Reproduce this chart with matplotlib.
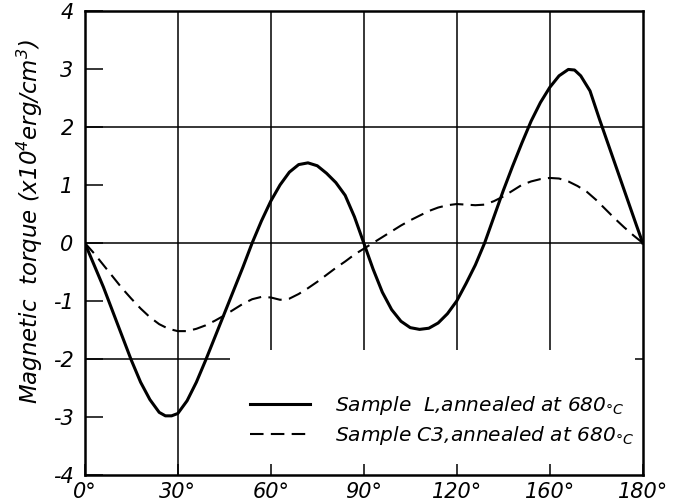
import numpy as np
import matplotlib
matplotlib.use("Agg")
import matplotlib.pyplot as plt

plt.rcParams["font.family"] = ["DejaVu Sans"]
plt.rcParams["font.style"] = "italic"
plt.rcParams["mathtext.fontset"] = "dejavusans"
plt.rcParams["mathtext.default"] = "it"

# --- data ----------------------------------------------------------------------

angle_L = [0, 3, 6, 9, 12, 15, 18, 21, 24, 26, 28, 30, 33, 36, 39, 42, 45, 48, 51,
           54, 57, 60, 63, 66, 69, 72, 75, 78, 81, 84, 87, 90, 93, 96, 99, 102, 105,
           108, 111, 114, 117, 120, 123, 126, 129, 132, 135, 138, 141, 144, 147, 150,
           153, 156, 158, 160, 163, 166, 169, 172, 175, 178, 180]
torque_L = [0.0, -0.38, -0.76, -1.18, -1.6, -2.02, -2.4, -2.7, -2.92, -2.98, -2.98,
            -2.94, -2.72, -2.4, -2.02, -1.62, -1.22, -0.82, -0.42, 0.0, 0.38, 0.72,
            1.0, 1.22, 1.35, 1.38, 1.33, 1.2, 1.04, 0.82, 0.45, 0.0, -0.45, -0.85,
            -1.15, -1.35, -1.46, -1.49, -1.47, -1.38, -1.22, -1.0, -0.7, -0.38, 0.0,
            0.45, 0.9, 1.32, 1.72, 2.1, 2.42, 2.68, 2.88, 2.99, 2.98, 2.88, 2.62,
            2.14, 1.68, 1.22, 0.76, 0.3, 0.0]

angle_C3 = [0, 3, 6, 9, 12, 15, 18, 21, 24, 27, 30, 33, 36, 39, 42, 45, 48, 51, 54,
            57, 60, 63, 66, 69, 72, 75, 78, 81, 84, 87, 90, 93, 96, 99, 102, 105, 108,
            111, 114, 117, 120, 123, 126, 129, 132, 135, 138, 141, 144, 147, 150, 153,
            156, 159, 162, 165, 168, 171, 174, 177, 180]
torque_C3 = [0.0, -0.18, -0.38, -0.58, -0.78, -0.96, -1.13, -1.28, -1.4, -1.48, -1.52,
             -1.52, -1.48, -1.42, -1.34, -1.25, -1.15, -1.05, -0.97, -0.93, -0.94,
             -0.98, -0.96, -0.88, -0.78, -0.67, -0.55, -0.43, -0.32, -0.2, -0.1, 0.0,
             0.1, 0.2, 0.3, 0.39, 0.47, 0.55, 0.61, 0.65, 0.67, 0.66, 0.65, 0.66, 0.72,
             0.8, 0.9, 1.0, 1.06, 1.1, 1.12, 1.11, 1.06, 0.98, 0.88, 0.74, 0.58, 0.42,
             0.27, 0.13, 0.0]

label_L  = "Sample  L,annealed at 680$_{°C}$"
label_C3 = "Sample C3,annealed at 680$_{°C}$"

x_ticks  = [0, 30, 60, 90, 120, 150, 180]
x_labels = ["0°", "30°", "60°", "90°", "120°", "160°", "180°"]
y_ticks  = [-4, -3, -2, -1, 0, 1, 2, 3, 4]

# hand-drawn grid of the original (partial lines)
vgrid_full  = [30]
vgrid_part  = [60, 90, 120, 150]
vgrid_part_bottom = -1.85
hgrid_full  = [0, 2]
hgrid_short = [-2]
hgrid_short_end = 47

# --- figure --------------------------------------------------------------------

fig = plt.figure(figsize=(6.73, 5.04), dpi=100)
ax = fig.add_axes([0.126, 0.0575, 0.829, 0.921])
ax.set_xlim(0, 180)
ax.set_ylim(-4, 4)

gkw = dict(color="black", linewidth=1.1, zorder=1)
ax.vlines(vgrid_full, -4, 4, **gkw)
ax.vlines(vgrid_part, vgrid_part_bottom, 4, **gkw)
ax.hlines(hgrid_full, 0, 180, **gkw)
ax.hlines(hgrid_short, 0, hgrid_short_end, **gkw)
ax.hlines(hgrid_short, 177.5, 180, **gkw)

ax.plot(angle_L, torque_L, color="black", linewidth=2.2, label=label_L, zorder=3)
ax.plot(angle_C3, torque_C3, color="black", linewidth=1.5, dashes=(6.5, 3.5),
        label=label_C3, zorder=3)

for s in ax.spines.values():
    s.set_linewidth(1.8)

ax.set_xticks(x_ticks)
ax.set_xticklabels(x_labels)
ax.set_yticks(y_ticks)
ax.set_yticklabels([str(v) for v in y_ticks])
ax.tick_params(axis="x", direction="in", length=8, width=1.1, pad=5, labelsize=15)
ax.tick_params(axis="y", direction="in", length=13, width=1.1, pad=8, labelsize=15)

ax.set_ylabel("Magnetic  torque (x10$^4$erg/cm$^3$)", fontsize=16.5)
ax.yaxis.set_label_coords(-0.072, 0.545)

ax.legend(loc="lower right", bbox_to_anchor=(1.005, 0.035), frameon=False,
          fontsize=14.5, handlelength=3.0, handletextpad=1.2, labelspacing=0.35,
          borderaxespad=0.2)

fig.savefig("out.png", dpi=100, facecolor="white")
